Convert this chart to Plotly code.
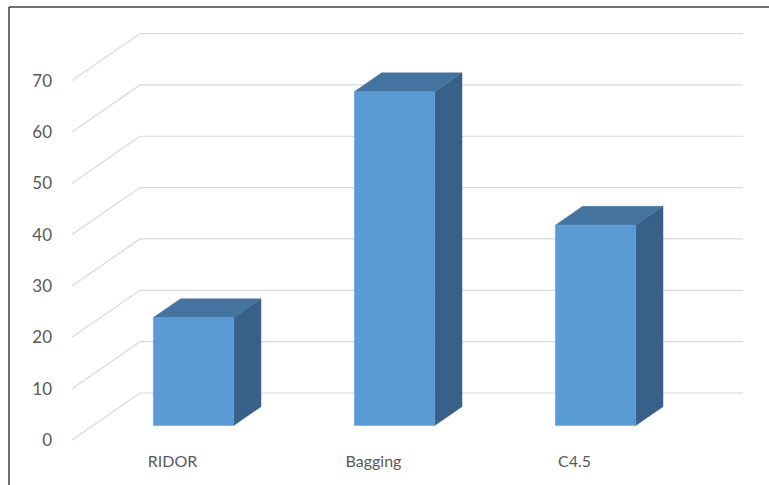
import plotly.graph_objects as go

# Data
categories = ["RIDOR", "Bagging", "C4.5"]
values = [21, 65, 39]
y_ticks = [0, 10, 20, 30, 40, 50, 60, 70]

# Oblique 3D projection: a point (x, v, depth d in [0, 1]) is drawn at
# (x + d * DEPTH_X, v + d * DEPTH_V) in axis units.
DEPTH_X = 0.3383
DEPTH_V = 9.153
BAR_D0, BAR_D1 = 0.31, 0.71
BAR_W = 0.40

FRONT = "#5B9BD5"
TOP = "#4473A0"
SIDE = "#386089"
GRID = "#D9D9D9"
TEXT = "#595959"


def proj(x, v, d):
    return x + d * DEPTH_X, v + d * DEPTH_V


def poly(points, color):
    xs = [p[0] for p in points] + [points[0][0]]
    ys = [p[1] for p in points] + [points[0][1]]
    return go.Scatter(x=xs, y=ys, mode="lines", fill="toself",
                      fillcolor=color, line=dict(color=color, width=0.5),
                      hoverinfo="skip", showlegend=False)


fig = go.Figure()

# Walls: diagonal side-wall lines and horizontal back-wall gridlines
x_left, x_right = -0.5, len(categories) - 0.5
for t in y_ticks:
    p0 = proj(x_left, t, 0)
    p1 = proj(x_left, t, 1)
    p2 = proj(x_right, t, 1)
    fig.add_trace(go.Scatter(x=[p0[0], p1[0], p2[0]], y=[p0[1], p1[1], p2[1]],
                             mode="lines", line=dict(color=GRID, width=1.2),
                             hoverinfo="skip", showlegend=False))

# Bars: side, top and front faces
for i, v in enumerate(values):
    xl, xr = i - BAR_W / 2, i + BAR_W / 2
    side = [proj(xr, 0, BAR_D0), proj(xr, 0, BAR_D1),
            proj(xr, v, BAR_D1), proj(xr, v, BAR_D0)]
    top = [proj(xl, v, BAR_D0), proj(xr, v, BAR_D0),
           proj(xr, v, BAR_D1), proj(xl, v, BAR_D1)]
    front = [proj(xl, 0, BAR_D0), proj(xr, 0, BAR_D0),
             proj(xr, v, BAR_D0), proj(xl, v, BAR_D0)]
    fig.add_trace(poly(side, SIDE))
    fig.add_trace(poly(top, TOP))
    fig.add_trace(poly(front, FRONT))

W, H = 769, 485
ml, mr, mt, mb = 60, 9, 20, 35
px_x = 201.0   # pixels per category
px_v = 5.135   # pixels per value unit
x0_px, v0_px = 72, 440  # front-left corner of the floor

plot_w = W - ml - mr
plot_h = H - mt - mb
x_min = x_left + (ml - x0_px) / px_x
x_max = x_min + plot_w / px_x
v_min = (v0_px - (H - mb)) / px_v
v_max = v_min + plot_h / px_v

fig.update_layout(
    width=W, height=H,
    margin=dict(l=ml, r=mr, t=mt, b=mb),
    paper_bgcolor="white", plot_bgcolor="white",
    font=dict(family="Lato, Calibri, sans-serif", size=16, color=TEXT),
    xaxis=dict(range=[x_min, x_max], showgrid=False, zeroline=False,
               showline=False, tickmode="array",
               tickvals=list(range(len(categories))), ticktext=categories,
               ticks="", ticklabelstandoff=0, fixedrange=True),
    yaxis=dict(range=[v_min, v_max], showgrid=False, zeroline=False,
               showline=False, tickmode="array", tickvals=y_ticks,
               ticks="", ticklabelstandoff=7,
               tickfont=dict(size=17), fixedrange=True),
    shapes=[
        # outer chart frame (top and left edges)
        dict(type="line", xref="paper", yref="paper",
             x0=(9 - ml) / plot_w, x1=(W + 5 - ml) / plot_w,
             y0=(H - mb - 7) / plot_h, y1=(H - mb - 7) / plot_h,
             line=dict(color="#404040", width=1.5)),
        dict(type="line", xref="paper", yref="paper",
             x0=(9 - ml) / plot_w, x1=(9 - ml) / plot_w,
             y0=(H - mb - 7) / plot_h, y1=(H - mb - H - 5) / plot_h,
             line=dict(color="#404040", width=1.5)),
    ],
)

fig.write_html("out.html")
